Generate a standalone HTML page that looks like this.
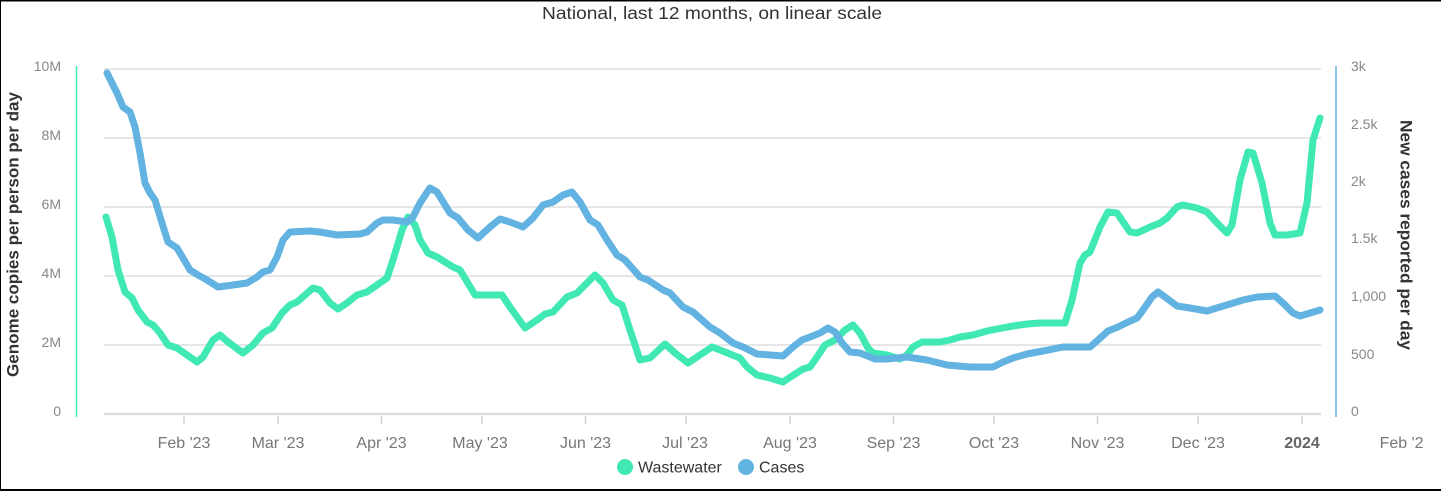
<!DOCTYPE html>
<html>
<head>
<meta charset="utf-8">
<style>
  html, body { margin: 0; padding: 0; background: #fff; }
  svg { display: block; }
  text { font-family: "Liberation Sans", Arial, sans-serif; }
</style>
</head>
<body>
<svg width="1441" height="491" viewBox="0 0 1441 491" xmlns="http://www.w3.org/2000/svg">
  <rect x="0" y="0" width="1441" height="491" fill="#ffffff"/>
  <!-- border -->
  <line x1="0" y1="0.75" x2="1441" y2="0.75" stroke="#000" stroke-width="1.5"/>
  <line x1="0.5" y1="0" x2="0.5" y2="491" stroke="#000" stroke-width="1"/>
  <line x1="0" y1="490" x2="1441" y2="490" stroke="#000" stroke-width="2"/>

  <!-- title -->
  <text x="712" y="19" font-size="17.5" fill="#333" text-anchor="middle" textLength="340" lengthAdjust="spacingAndGlyphs">National, last 12 months, on linear scale</text>

  <!-- gridlines -->
  <g stroke="#e6e6e6" stroke-width="2">
    <line x1="104" y1="69" x2="1321" y2="69"/>
    <line x1="104" y1="138" x2="1321" y2="138"/>
    <line x1="104" y1="207" x2="1321" y2="207"/>
    <line x1="104" y1="276" x2="1321" y2="276"/>
    <line x1="104" y1="345" x2="1321" y2="345"/>
  </g>
  <line x1="104" y1="414" x2="1321" y2="414" stroke="#dcdcdc" stroke-width="2.5"/>

  <!-- x ticks -->
  <g stroke="#d0d0d0" stroke-width="1.5">
    <line x1="184" y1="416" x2="184" y2="424"/>
    <line x1="278" y1="416" x2="278" y2="424"/>
    <line x1="381.5" y1="416" x2="381.5" y2="424"/>
    <line x1="482" y1="416" x2="482" y2="424"/>
    <line x1="585.5" y1="416" x2="585.5" y2="424"/>
    <line x1="686" y1="416" x2="686" y2="424"/>
    <line x1="790" y1="416" x2="790" y2="424"/>
    <line x1="893.5" y1="416" x2="893.5" y2="424"/>
    <line x1="994" y1="416" x2="994" y2="424"/>
    <line x1="1097.5" y1="416" x2="1097.5" y2="424"/>
    <line x1="1198" y1="416" x2="1198" y2="424"/>
    <line x1="1302" y1="416" x2="1302" y2="424"/>
  </g>

  <!-- axis lines -->
  <line x1="76.5" y1="66" x2="76.5" y2="417" stroke="#3ee9b3" stroke-width="1.5"/>
  <line x1="1336" y1="66" x2="1336" y2="417" stroke="#62b2e2" stroke-width="1.5"/>

  <!-- left labels -->
  <g font-size="14" fill="#888" text-anchor="end">
    <text x="61" y="71">10M</text>
    <text x="61" y="140">8M</text>
    <text x="61" y="209">6M</text>
    <text x="61" y="278">4M</text>
    <text x="61" y="347">2M</text>
    <text x="61" y="416">0</text>
  </g>
  <!-- right labels -->
  <g font-size="14" fill="#888">
    <text x="1351" y="71">3k</text>
    <text x="1351" y="129">2.5k</text>
    <text x="1351" y="186">2k</text>
    <text x="1351" y="243">1.5k</text>
    <text x="1351" y="301">1,000</text>
    <text x="1351" y="359">500</text>
    <text x="1351" y="416">0</text>
  </g>

  <!-- axis titles -->
  <text transform="translate(18.5,234.5) rotate(-90)" font-size="17" font-weight="bold" fill="#333" text-anchor="middle" textLength="285" lengthAdjust="spacingAndGlyphs">Genome copies per person per day</text>
  <text transform="translate(1400.5,235) rotate(90)" font-size="17" font-weight="bold" fill="#333" text-anchor="middle" textLength="230" lengthAdjust="spacingAndGlyphs">New cases reported per day</text>

  <!-- x labels -->
  <defs>
    <clipPath id="clipR"><rect x="0" y="0" width="1424" height="491"/></clipPath>
  </defs>
  <g font-size="16" fill="#777" text-anchor="middle">
    <text x="184" y="448">Feb '23</text>
    <text x="278" y="448">Mar '23</text>
    <text x="381.5" y="448">Apr '23</text>
    <text x="480" y="448">May '23</text>
    <text x="585.5" y="448">Jun '23</text>
    <text x="685" y="448">Jul '23</text>
    <text x="790" y="448">Aug '23</text>
    <text x="893.5" y="448">Sep '23</text>
    <text x="994" y="448">Oct '23</text>
    <text x="1097.5" y="448">Nov '23</text>
    <text x="1198" y="448">Dec '23</text>
    <text x="1302" y="448" font-weight="bold" fill="#666">2024</text>
    <text x="1406" y="448" clip-path="url(#clipR)">Feb '24</text>
  </g>

  <!-- series -->
  <g fill="none" stroke-width="7" stroke-linejoin="round" stroke-linecap="round">
    <polyline stroke="#40e9b4" points="106,217 112,237 118,270 125,292 132,298 138,310 147,322 153,325 160,333 168,345 177,348 187,355 197,362 203,357 213,340 220,335 228,342 243,353 253,345 263,333 272,328 282,313 290,305 297,302 313,288 320,290 330,303 338,309 347,303 357,295 367,292 377,285 387,278 393,260 402,230 408,217 415,225 420,240 428,253 437,257 453,267 460,270 475,295 487,295 502,295 510,307 525,328 537,320 545,314 553,312 567,297 577,293 585,285 595,275 603,283 613,300 622,305 630,330 640,360 650,358 665,344 675,353 688,363 700,355 712,347 720,350 730,354 740,358 747,367 757,375 770,378 783,382 792,376 803,369 810,367 817,357 825,345 835,340 845,330 853,325 860,333 868,348 873,353 887,355 900,359 907,355 913,347 922,342 940,342 950,340 960,337 973,335 987,331 997,329 1013,326 1027,324 1040,323 1065,323 1072,300 1080,263 1085,255 1090,252 1100,227 1108,212 1117,213 1130,232 1137,233 1150,227 1160,223 1167,218 1177,207 1183,205 1197,208 1207,212 1217,223 1227,233 1232,225 1240,180 1248,152 1253,153 1262,183 1270,223 1275,235 1287,235 1300,233 1307,203 1313,140 1320,118"/>
    <polyline stroke="#62b2e2" points="107,73 117,93 123,107 130,112 135,127 140,153 145,183 150,193 155,200 162,223 168,242 177,248 183,258 190,270 198,275 207,280 218,287 233,285 247,283 257,277 263,272 270,270 277,257 283,240 290,232 310,231 320,232 337,235 360,234 367,232 377,223 383,220 393,220 407,222 413,217 420,203 430,188 437,192 450,213 458,218 468,230 478,238 490,227 500,219 510,222 523,227 533,218 543,205 553,202 563,195 572,192 580,202 590,220 598,225 607,240 617,255 625,260 640,277 648,280 663,290 670,293 683,307 693,312 710,327 720,333 733,343 743,347 757,354 770,355 783,356 793,347 802,340 810,337 820,333 828,328 835,332 842,343 850,352 860,353 875,359 887,359 907,357 927,360 947,365 970,367 993,367 1003,362 1013,358 1027,354 1043,351 1063,347 1090,347 1098,340 1108,331 1118,327 1128,322 1137,318 1143,310 1152,297 1158,292 1165,297 1177,306 1190,308 1207,311 1220,307 1230,304 1243,300 1257,297 1275,296 1283,303 1293,313 1300,316 1310,313 1320,310"/>
  </g>

  <!-- legend -->
  <circle cx="625" cy="467" r="8" fill="#40e9b4"/>
  <text x="638" y="472.5" font-size="16" fill="#333">Wastewater</text>
  <circle cx="746" cy="467" r="8" fill="#62b2e2"/>
  <text x="759" y="472.5" font-size="16" fill="#333">Cases</text>
</svg>
</body>
</html>
